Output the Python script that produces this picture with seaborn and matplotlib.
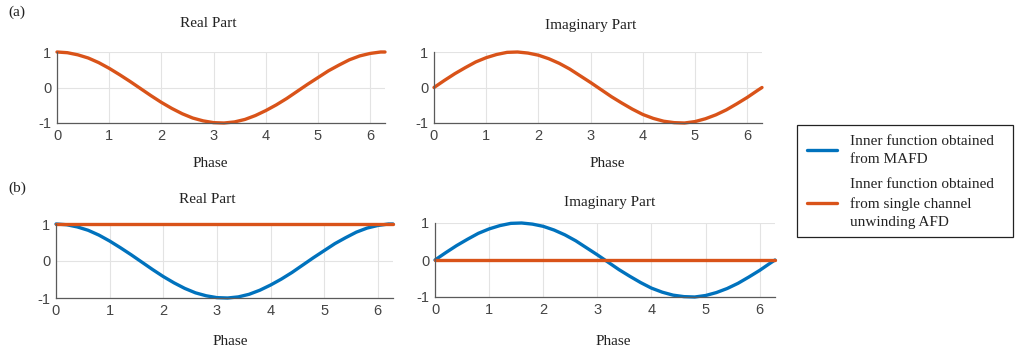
import matplotlib
matplotlib.use("Agg")
import matplotlib.pyplot as plt
from matplotlib.patches import Rectangle
import seaborn as sns
import pandas as pd

# Phase samples (radians) and the inner-function values read at each sample
phase = [0.0, 0.2, 0.4, 0.6, 0.8, 1.0, 1.2, 1.4, 1.6, 1.8, 2.0, 2.2, 2.4, 2.6,
         2.8, 3.0, 3.2, 3.4, 3.6, 3.8, 4.0, 4.2, 4.4, 4.6, 4.8, 5.0, 5.2, 5.4,
         5.6, 5.8, 6.0, 6.2, 6.2832]
real_part = [1.00, 0.98, 0.92, 0.83, 0.70, 0.54, 0.36, 0.17, -0.03, -0.23,
             -0.42, -0.59, -0.74, -0.86, -0.94, -0.99, -1.00, -0.97, -0.90,
             -0.79, -0.65, -0.49, -0.31, -0.11, 0.09, 0.28, 0.47, 0.63, 0.78,
             0.89, 0.96, 1.00, 1.00]
imag_part = [0.00, 0.20, 0.39, 0.56, 0.72, 0.84, 0.93, 0.99, 1.00, 0.97, 0.91,
             0.81, 0.68, 0.52, 0.33, 0.14, -0.06, -0.26, -0.44, -0.61, -0.76,
             -0.87, -0.95, -0.99, -1.00, -0.96, -0.88, -0.77, -0.63, -0.46,
             -0.28, -0.08, 0.00]
# single channel unwinding AFD inner function in panel (b)
single_real = [1.00] * len(phase)
single_imag = [0.00] * len(phase)

x_ticks = [0, 1, 2, 3, 4, 5, 6]
y_ticks = [-1, 0, 1]
legend_labels = ["Inner function obtained\nfrom MAFD",
                 "Inner function obtained\nfrom single channel\nunwinding AFD"]

BLUE = "#0072BD"
ORANGE = "#D95319"
SERIF = "Liberation Serif"
SANS = "Liberation Sans"

sns.set_theme(style="white")
plt.rcParams["font.family"] = [SANS, "DejaVu Sans"]
plt.rcParams["axes.unicode_minus"] = False

W, H = 1017, 352
fig = plt.figure(figsize=(W / 100, H / 100), dpi=100)


def px_axes(left, right, top, bottom):
    return fig.add_axes([left / W, 1 - bottom / H, (right - left) / W, (bottom - top) / H])


def style(ax):
    ax.set_xlim(0, 6.2832)
    ax.set_ylim(-1, 1)
    ax.set_xticks(x_ticks)
    ax.set_yticks(y_ticks)
    ax.grid(True, color="#e3e3e3", linewidth=0.8)
    ax.set_axisbelow(True)
    for s in ("top", "right"):
        ax.spines[s].set_visible(False)
    for s in ("left", "bottom"):
        ax.spines[s].set_color("#5a5a5a")
        ax.spines[s].set_linewidth(0.9)
    ax.tick_params(axis="both", direction="in", length=3, width=0.8,
                   color="#5a5a5a", labelsize=10.5, labelcolor="#444444", pad=4)
    ax.set_ylabel("")


df = pd.DataFrame({"phase": phase, "real": real_part, "imag": imag_part,
                   "single_real": single_real, "single_imag": single_imag})

lw = 2.4

# (a) single channel unwinding AFD
ax1 = px_axes(57, 385, 52, 123)
sns.lineplot(data=df, x="phase", y="real", color=ORANGE, linewidth=lw, ax=ax1)
ax2 = px_axes(434, 762, 52, 123)
sns.lineplot(data=df, x="phase", y="imag", color=ORANGE, linewidth=lw, ax=ax2)

# (b) MAFD against single channel unwinding AFD
ax3 = px_axes(56, 393, 224, 298)
sns.lineplot(data=df, x="phase", y="real", color=BLUE, linewidth=lw, ax=ax3)
sns.lineplot(data=df, x="phase", y="single_real", color=ORANGE, linewidth=lw, ax=ax3)
ax4 = px_axes(435, 775, 223, 297)
sns.lineplot(data=df, x="phase", y="imag", color=BLUE, linewidth=lw, ax=ax4)
sns.lineplot(data=df, x="phase", y="single_imag", color=ORANGE, linewidth=lw, ax=ax4)

for ax in (ax1, ax2, ax3, ax4):
    style(ax)
    for ln in ax.lines:
        ln.set_clip_on(False)

title_kw = dict(fontfamily=SERIF, fontsize=11, color="#222222", va="baseline", pad=0)
ax1.set_title("Real Part", x=0.46, y=1.352, **title_kw)
ax2.set_title("Imaginary Part", x=0.476, y=1.324, **title_kw)
ax3.set_title("Real Part", x=0.448, y=1.284, **title_kw)
ax4.set_title("Imaginary Part", x=0.515, y=1.23, **title_kw)

label_kw = dict(fontfamily=SERIF, fontsize=11, color="#222222")
for ax, (lx, ly) in zip((ax1, ax2, ax3, ax4),
                        [(0.466, -0.48), (0.527, -0.48), (0.516, -0.50), (0.524, -0.51)]):
    ax.set_xlabel("Phase", **label_kw)
    ax.xaxis.set_label_coords(lx, ly)

fig.text(8 / W, 1 - 12 / H, "(a)", fontfamily=SERIF, fontsize=11, va="center", color="#222222")
fig.text(8 / W, 1 - 188 / H, "(b)", fontfamily=SERIF, fontsize=11, va="center", color="#222222")

# legend box drawn separately so its width can be set independently of the text
fig.patches.append(Rectangle((797 / W, 1 - 237 / H), (1013 - 797) / W, (237 - 125) / H,
                             transform=fig.transFigure, fill=False,
                             edgecolor="#222222", linewidth=0.9, zorder=5))
handles = [plt.Line2D([], [], color=BLUE, linewidth=lw),
           plt.Line2D([], [], color=ORANGE, linewidth=lw)]
leg = fig.legend(handles, legend_labels, loc="upper left",
                 bbox_to_anchor=(797 / W, 1 - 125 / H),
                 prop={"family": SERIF, "size": 11}, frameon=False,
                 handlelength=2.0, handletextpad=0.85, labelspacing=0.75,
                 borderpad=0.65, borderaxespad=0)
for t in leg.get_texts():
    t.set_color("#222222")
    t.set_linespacing(1.55)

fig.savefig("out.png", dpi=100)
